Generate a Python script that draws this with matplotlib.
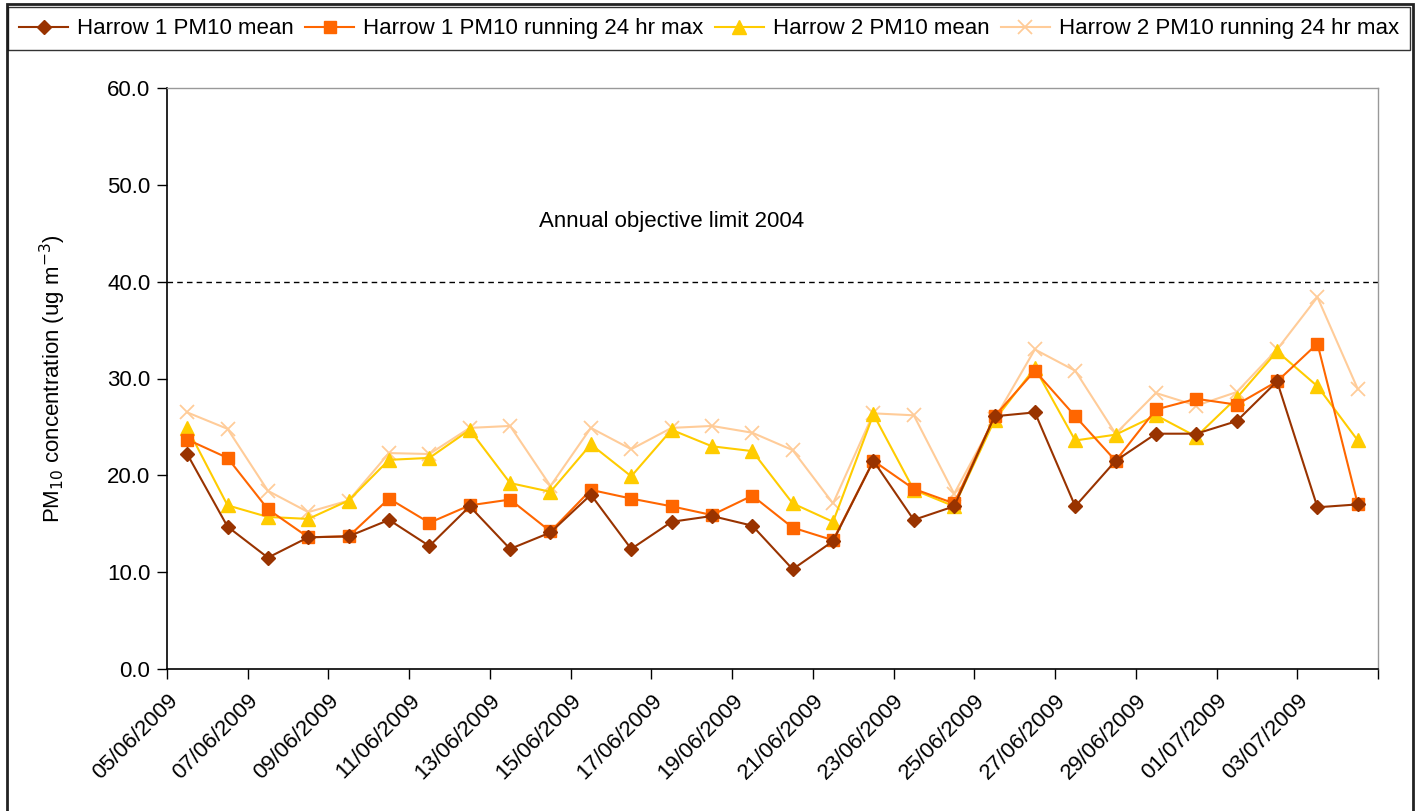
import matplotlib
matplotlib.use("Agg")
import matplotlib.pyplot as plt
import matplotlib.transforms as mtransforms
from matplotlib.patches import Rectangle
import numpy as np

plt.rcParams['font.family'] = ['Liberation Sans', 'DejaVu Sans']

tick_labels = ["05/06/2009", "07/06/2009", "09/06/2009", "11/06/2009", "13/06/2009",
               "15/06/2009", "17/06/2009", "19/06/2009", "21/06/2009", "23/06/2009",
               "25/06/2009", "27/06/2009", "29/06/2009", "01/07/2009", "03/07/2009"]

harrow1_mean = [22.2, 14.7, 11.5, 13.6, 13.7, 15.4, 12.7, 16.8, 12.4, 14.1,
                18.0, 12.4, 15.2, 15.8, 14.8, 10.3, 13.2, 21.5, 15.4, 16.8,
                26.1, 26.5, 16.8, 21.5, 24.3, 24.3, 25.6, 29.7, 16.7, 17.0]
harrow1_max = [23.7, 21.8, 16.5, 13.6, 13.7, 17.6, 15.1, 16.9, 17.5, 14.2,
               18.5, 17.6, 16.8, 15.9, 17.9, 14.6, 13.3, 21.5, 18.6, 17.1,
               26.1, 30.8, 26.1, 21.5, 26.8, 27.9, 27.3, 29.7, 33.6, 17.0]
harrow2_mean = [24.9, 16.9, 15.7, 15.5, 17.4, 21.6, 21.8, 24.7, 19.2, 18.3,
                23.2, 19.9, 24.7, 23.0, 22.5, 17.1, 15.2, 26.3, 18.5, 16.8,
                25.7, 31.1, 23.6, 24.2, 26.2, 24.0, 28.0, 32.8, 29.2, 23.6]
harrow2_max = [26.5, 24.8, 18.4, 16.2, 17.4, 22.3, 22.2, 24.9, 25.1, 18.9,
               24.9, 22.7, 24.9, 25.1, 24.4, 22.6, 17.1, 26.4, 26.2, 18.1,
               25.8, 33.0, 30.8, 24.3, 28.5, 27.2, 28.6, 33.0, 38.4, 28.9]

series_names = ["Harrow 1 PM10 mean", "Harrow 1 PM10 running 24 hr max",
                "Harrow 2 PM10 mean", "Harrow 2 PM10 running 24 hr max"]
objective_value = 40.0
objective_label = "Annual objective limit 2004"

FS = 16

fig = plt.figure(figsize=(14.2, 8.11), dpi=100)
ax = fig.add_axes([167/1420, 1 - 669/811, (1378 - 167)/1420, (669 - 88)/811])

n = len(harrow1_mean)
x = np.arange(n) + 0.5

styles = [
    dict(color="#993300", marker="D", markersize=7.5, lw=1.5),
    dict(color="#FF6600", marker="s", markersize=8.5, lw=1.5),
    dict(color="#FFCC00", marker="^", markersize=10, lw=1.5),
    dict(color="#FFCC99", marker="x", markersize=10, lw=1.5, markeredgewidth=1.3),
]
data = [harrow1_mean, harrow1_max, harrow2_mean, harrow2_max]
handles = []
for vals, st, name in zip(data, styles, series_names):
    h, = ax.plot(x, vals, label=name, **st)
    handles.append(h)
for h, z in zip(handles, [4, 3, 2, 1]):
    h.set_zorder(z + 2)

ax.axhline(objective_value, color="black", lw=1.0, ls=(0, (4, 3)), zorder=1)
ax.text(12.5, 46.2, objective_label, fontsize=FS, ha="center", va="center")

ax.set_xlim(0, n)
ax.set_ylim(0, 60)
ax.set_yticks(np.arange(0, 61, 10))
ax.set_yticklabels([f"{v:.1f}" for v in np.arange(0, 61, 10)], fontsize=FS)
ax.set_xticks(np.arange(0, n + 1, 2))
ax.set_xticklabels(tick_labels + [""], fontsize=FS, rotation=45, ha="right",
                   va="top", rotation_mode="anchor")
offset = mtransforms.ScaledTranslation(12/100, 0, fig.dpi_scale_trans)
for lbl in ax.get_xticklabels():
    lbl.set_transform(lbl.get_transform() + offset)
ax.tick_params(axis="x", direction="out", length=7, width=1, pad=8)
ax.tick_params(axis="y", direction="out", length=7, width=1, pad=5)
ax.set_ylabel(r"PM$_{10}$ concentration (ug m$^{-3}$)", fontsize=FS, labelpad=28)

for s in ["left", "bottom"]:
    ax.spines[s].set_color("black")
    ax.spines[s].set_linewidth(1.2)
for s in ["top", "right"]:
    ax.spines[s].set_color("#999999")
    ax.spines[s].set_linewidth(1.0)

fig.patches.append(Rectangle((7/1420, -0.01), (1413 - 7)/1420, 1 - 4/811 + 0.01,
                             transform=fig.transFigure, fill=False,
                             edgecolor="#222222", lw=2.0))

leg = fig.legend(handles=handles, labels=series_names, loc="upper left",
                 bbox_to_anchor=(8/1420, 1 - 8/811, (1410 - 8)/1420, 0.001),
                 mode="expand", ncol=4, fontsize=FS, frameon=True, fancybox=False,
                 edgecolor="black", handlelength=2.2, handletextpad=0.4,
                 columnspacing=0.5, borderpad=0.5, borderaxespad=0)
leg.get_frame().set_linewidth(1.0)

fig.savefig("out.png", dpi=100)
